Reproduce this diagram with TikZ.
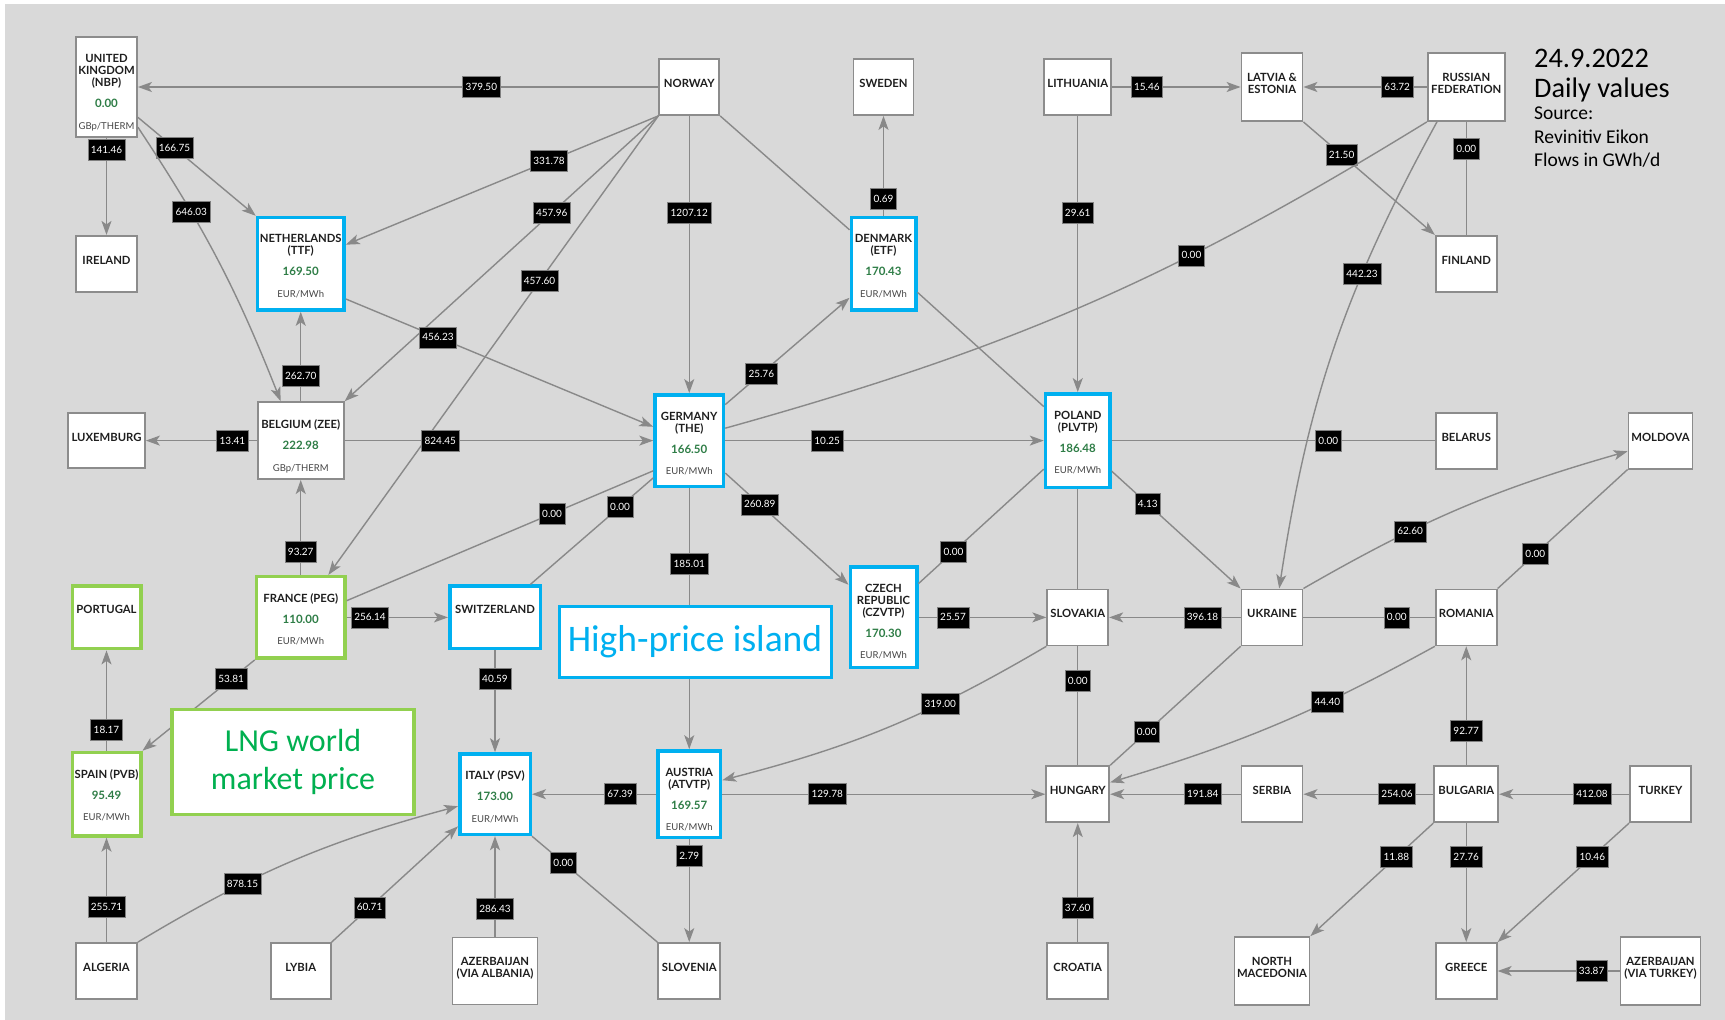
\documentclass[tikz,border=0pt]{standalone}
\usepackage{fontspec}
\usepackage{tikz}
\usetikzlibrary{arrows.meta, positioning}

\newfontfamily\latofont{Lato}
\newfontfamily\calfont{Carlito}

\definecolor{bggray}{RGB}{217,217,217}
\definecolor{boxgray}{RGB}{140,140,140}
\definecolor{edgegray}{RGB}{137,137,137}
\definecolor{hlblue}{RGB}{0,176,240}
\definecolor{lnggreen}{RGB}{146,208,80}
\definecolor{lngtext}{RGB}{0,176,80}
\definecolor{pricegreen}{RGB}{46,125,70}
\definecolor{unitgray}{RGB}{70,70,70}
\definecolor{namegray}{RGB}{30,30,30}

\newcommand{\namefont}{\latofont\bfseries\fontsize{11.3}{12}\selectfont}
\newcommand{\pricefont}{\color{pricegreen}\fontsize{11.5}{12}\selectfont\bfseries}
\newcommand{\unitfont}{\color{unitgray}\mdseries\fontsize{9.5}{10}\selectfont}
\newcommand{\flowfont}{\latofont\fontsize{10}{12}\selectfont}

\begin{document}
\begin{tikzpicture}[
    x=1pt, y=-1pt,
    cbox/.style={fill=white, inner sep=0pt},
    namelbl/.style={font=\namefont, text=namegray, align=center, anchor=north, inner sep=0pt},
    cname/.style={label={[namelbl, yshift=-21]north:#1}},
    cprice/.style n args={3}{label={[namelbl, yshift=-18.5]north:#1\\[9pt]\pricefont #2\\[9.5pt]\unitfont #3}},
    flowline/.style={draw=edgegray, line width=1.4pt},
    arr/.style={flowline, -{Stealth[length=14pt, width=10pt, inset=3.5pt]}},
    flow/.style={fill=black, draw=gray, line width=0.5pt, text=white, font=\flowfont,
        inner xsep=3pt, inner ysep=0pt, minimum height=21pt},
    island/.style={draw=hlblue, line width=3pt, fill=white, minimum width=272, minimum height=71,
        font=\calfont\fontsize{37.5}{40}\selectfont, text=hlblue},
    lngbox/.style={draw=lnggreen, line width=3.5pt, fill=white, minimum width=242, minimum height=105,
        align=center, font=\calfont\fontsize{32}{38}\selectfont, text=lngtext}
]

% Grid of the map
\def\xzero{106.5}
\def\yzero{87}
\def\colw{194.25}
\def\rowh{176.8}
\def\eur{EUR/MWh}
\def\gbp{GBp/THERM}

\useasboundingbox (0,0) rectangle (1725,1020);
\fill[bggray] (5,4) rectangle (1725,1020);

% Countries without a hub price
\foreach \id/\c/\r/\w/\h/\fr/\lw/\txt in {
    ireland/0/1/61/56/boxgray/1.8/IRELAND,
    luxemburg/0/2/77/55/boxgray/1.8/LUXEMBURG,
    portugal/0/3/68.5/62.5/lnggreen/3.5/PORTUGAL,
    switzerland/2/3/90.5/62.5/hlblue/3.5/SWITZERLAND,
    norway/3/0/60/56/boxgray/1.8/NORWAY,
    sweden/4/0/60/56/boxgray/1.8/SWEDEN,
    lithuania/5/0/67/56/boxgray/1.8/LITHUANIA,
    latvia/6/0/61/68/boxgray/1.8/LATVIA \&\\ESTONIA,
    russia/7/0/77/68/boxgray/1.8/RUSSIAN\\FEDERATION,
    finland/7/1/61/56/boxgray/1.8/FINLAND,
    belarus/7/2/61/56/boxgray/1.8/BELARUS,
    moldova/8/2/64/56/boxgray/1.8/MOLDOVA,
    slovakia/5/3/61/56/boxgray/1.8/SLOVAKIA,
    ukraine/6/3/61/56/boxgray/1.8/UKRAINE,
    romania/7/3/61/56/boxgray/1.8/ROMANIA,
    hungary/5/4/63/56/boxgray/1.8/HUNGARY,
    serbia/6/4/61/56/boxgray/1.8/SERBIA,
    bulgaria/7/4/64/56/boxgray/1.8/BULGARIA,
    turkey/8/4/61/56/boxgray/1.8/TURKEY,
    algeria/0/5/61/56/boxgray/1.8/ALGERIA,
    lybia/1/5/60/56/boxgray/1.8/LYBIA,
    azalb/2/5/85/67/boxgray/1.8/AZERBAIJAN\\(VIA ALBANIA),
    slovenia/3/5/62/56/boxgray/1.8/SLOVENIA,
    croatia/5/5/61/56/boxgray/1.8/CROATIA,
    nmac/6/5/75/68/boxgray/1.8/NORTH\\MACEDONIA,
    greece/7/5/61/56/boxgray/1.8/GREECE,
    aztur/8/5/80/68/boxgray/1.8/AZERBAIJAN\\(VIA TURKEY)%
}
    \node[cbox, draw=\fr, line width=\lw, minimum width=\w, minimum height=\h, cname={\txt}]
        (\id) at (\c*\colw+\xzero, \r*\rowh+\yzero) {};

% Hubs with a daily price
\foreach \id/\c/\r/\w/\h/\fr/\lw/\txt/\val/\un in {
    uk/0/0/61/100/boxgray/1.8/UNITED\\KINGDOM\\(NBP)/0.00/\gbp,
    nl/1/1/86.5/92.5/hlblue/3.5/NETHERLANDS\\(TTF)/169.50/\eur,
    denmark/4/1/64.5/92.5/hlblue/3.5/DENMARK\\(ETF)/170.43/\eur,
    belgium/1/2/86/77/boxgray/1.8/BELGIUM (ZEE)/222.98/\gbp,
    germany/3/2/68.5/91.5/hlblue/3.5/GERMANY\\(THE)/166.50/\eur,
    poland/5/2/64.5/93.5/hlblue/3.5/POLAND\\(PLVTP)/186.48/\eur,
    france/1/3/88.5/81.5/lnggreen/3.5/FRANCE (PEG)/110.00/\eur,
    czech/4/3/66.5/100.5/hlblue/3.5/CZECH\\REPUBLIC\\(CZVTP)/170.30/\eur,
    spain/0/4/68.5/83.5/lnggreen/3.5/SPAIN (PVB)/95.49/\eur,
    italy/2/4/70.5/80.5/hlblue/3.5/ITALY (PSV)/173.00/\eur,
    austria/3/4/62.5/86.5/hlblue/3.5/AUSTRIA\\(ATVTP)/169.57/\eur%
}
    \node[cbox, draw=\fr, line width=\lw, minimum width=\w, minimum height=\h, cprice={\txt}{\val}{\un}]
        (\id) at (\c*\colw+\xzero, \r*\rowh+\yzero) {};

% Flows out of Norway and the UK
\draw[arr] (norway) -- node[flow, pos=.34] (fnoruk) {379.50} (uk);
\draw[arr] (norway.south west) -- node[flow, pos=.35] (fnornl) {331.78} (nl.23);
\draw[arr] (norway.south west) -- node[flow, pos=.34] (fnorbe) {457.96} (belgium.north east);
\draw[arr] (norway.south west) -- node[flow, pos=.36] (fnorfr) {457.60} (france.57);
\draw[arr] (norway) -- node[flow, pos=.35] (fnorde) {1207.12} (germany);
\draw[flowline] (norway.south east) -- (denmark.135);
\draw[arr] (uk) -- node[flow, pos=.12] (fukie) {141.46} (ireland);
\draw[arr] (uk.-44) -- node[flow, pos=.31] (fuknl) {166.75} (nl.north west);
\draw[arr] (uk.-52) to[bend left=6] node[flow, pos=.31] (fukbe) {646.03} (belgium.117);

% Denmark and the Baltic
\draw[arr] (denmark) -- node[flow, pos=.17] (fdkse) {0.69} (sweden);
\draw[arr] (germany.45) -- node[flow, pos=.29] (fdedk) {25.76} (denmark.225);
\draw[flowline] (denmark.-40) -- (poland.135);
\draw[arr] (lithuania) -- node[flow, pos=.35] (fltpl) {29.61} (poland);
\draw[arr] (lithuania) -- node[flow, pos=.27] (fltlv) {15.46} (latvia);
\draw[arr] (russia) -- node[flow, pos=.24] (frulv) {63.72} (latvia);
\draw[arr] (latvia.south east) -- node[flow, pos=.29] (flvfi) {21.50} (finland.north west);
\draw[flowline] (russia) -- node[flow, pos=.24] (frufi) {0.00} (finland);
\draw[flowline] (russia.south west) to[bend left=8] node[flow, pos=.34] (frude) {0.00} (germany.19);
\draw[arr] (russia.230) to[bend right=10] node[flow, pos=.33] (fruua) {442.23} (ukraine.76);

% Benelux and France
\draw[arr] (nl.-38) -- node[flow, pos=.3] (fnlde) {456.23} (germany.159);
\draw[arr] (belgium) -- node[flow, pos=.31] (fbede) {824.45} (germany);
\draw[arr] (belgium) -- node[flow, pos=.22] (fbelu) {13.41} (luxemburg);
\draw[arr] (belgium) -- node[flow, pos=.28] (fbenl) {262.70} (nl);
\draw[arr] (france) -- node[flow, pos=.24] (ffrbe) {93.27} (belgium);
\draw[arr] (france) -- node[flow, pos=.23] (ffrch) {256.14} (switzerland);
\draw[flowline] (france.20) -- node[flow, pos=.67] (ffrde) {0.00} (germany.220);
\draw[flowline] (switzerland.43) -- node[flow, pos=.73] (fchde) {0.00} (germany.226);
\draw[arr] (france.south west) -- node[flow, pos=.21] (ffres) {53.81} (spain.north east);
\draw[arr] (spain) -- node[flow, pos=.21] (fespt) {18.17} (portugal);
\draw[arr] (algeria) -- node[flow, pos=.34] (fdzes) {255.71} (spain);

% Italy and Austria
\draw[arr] (switzerland) -- node[flow, pos=.28] (fchit) {40.59} (italy);
\draw[arr] (algeria.north east) to[bend left=8] node[flow, pos=.33] (fdzit) {878.15} (italy.198);
\draw[arr] (lybia.north east) -- node[flow, pos=.3] (flyit) {60.71} (italy.221);
\draw[arr] (azalb) -- node[flow, pos=.28] (fazit) {286.43} (italy);
\draw[arr] (austria) -- node[flow, pos=.29] (fatit) {67.39} (italy);
\draw[flowline] (italy.south east) -- node[flow, pos=.25] (fitsi) {0.00} (slovenia.north west);
\draw[arr] (germany) -- node[flow, pos=.29] (fdeat) {185.01} (austria);
\draw[arr] (austria) -- node[flow, pos=.165] (fatsi) {2.79} (slovenia);
\draw[arr] (austria) -- node[flow, pos=.325] (fathu) {129.78} (hungary);
\draw[arr] (slovakia.south west) to[bend left=8] node[flow, pos=.33] (fskat) {319.00} (austria.23);

% Germany, Poland and Czech Republic
\draw[arr] (germany) -- node[flow, pos=.32] (fdepl) {10.25} (poland);
\draw[flowline] (poland) -- node[flow, pos=.67] (fplby) {0.00} (belarus);
\draw[flowline] (poland) -- (slovakia);
\draw[arr] (poland.-42) -- node[flow, pos=.28] (fplua) {4.13} (ukraine.north west);
\draw[arr] (germany.-42) -- node[flow, pos=.28] (fdecz) {260.89} (czech.137);
\draw[flowline] (czech.44) -- node[flow, pos=.28] (fczpl) {0.00} (poland.220);
\draw[arr] (czech) -- node[flow, pos=.27] (fczsk) {25.57} (slovakia);

% Ukraine, Hungary and the Balkans
\draw[arr] (ukraine) -- node[flow, pos=.29] (fuask) {396.18} (slovakia);
\draw[flowline] (ukraine) -- node[flow, pos=.71] (fuaro) {0.00} (romania);
\draw[arr] (ukraine.north east) to[bend left=7] node[flow, pos=.33] (fuamd) {62.60} (moldova.198);
\draw[flowline] (romania.north east) -- node[flow, pos=.29] (fromd) {0.00} (moldova.south west);
\draw[flowline] (slovakia) -- node[flow, pos=.29] (fskhu) {0.00} (hungary);
\draw[flowline] (ukraine.south west) -- node[flow, pos=.72] (fuahu) {0.00} (hungary.north east);
\draw[arr] (romania.south west) to[bend left=6] node[flow, pos=.33] (frohu) {44.40} (hungary.20);
\draw[arr] (serbia) -- node[flow, pos=.29] (frshu) {191.84} (hungary);
\draw[arr] (croatia) -- node[flow, pos=.29] (fhrhu) {37.60} (hungary);
\draw[arr] (bulgaria) -- node[flow, pos=.28] (fbgrs) {254.06} (serbia);
\draw[arr] (turkey) -- node[flow, pos=.285] (ftrbg) {412.08} (bulgaria);
\draw[arr] (bulgaria) -- node[flow, pos=.29] (fbgro) {92.77} (romania);
\draw[arr] (bulgaria.south west) -- node[flow, pos=.3] (fbgmk) {11.88} (nmac.north east);
\draw[arr] (bulgaria) -- node[flow, pos=.28] (fbggr) {27.76} (greece);
\draw[arr] (turkey.south west) -- node[flow, pos=.28] (ftrgr) {10.46} (greece.north east);
\draw[arr] (aztur) -- node[flow, pos=.23] (fazgr) {33.87} (greece);

% Call-outs on top
\node[island] (island) at (695,642) {High-price island};
\node[lngbox] (lng) at (293,762) {LNG world\\market price};

% Date and source (base anchor sits on the last line)
\node[anchor=base west, align=left, inner sep=0pt, font=\calfont\fontsize{28.3}{30}\selectfont] (date) at (1534,97) {24.9.2022\\Daily values};
\node[anchor=base west, align=left, inner sep=0pt, font=\calfont\fontsize{19.5}{23.7}\selectfont] (source) at (1534,166.7) {Source:\\Revinitiv Eikon\\Flows in GWh/d};

\end{tikzpicture}
\end{document}
